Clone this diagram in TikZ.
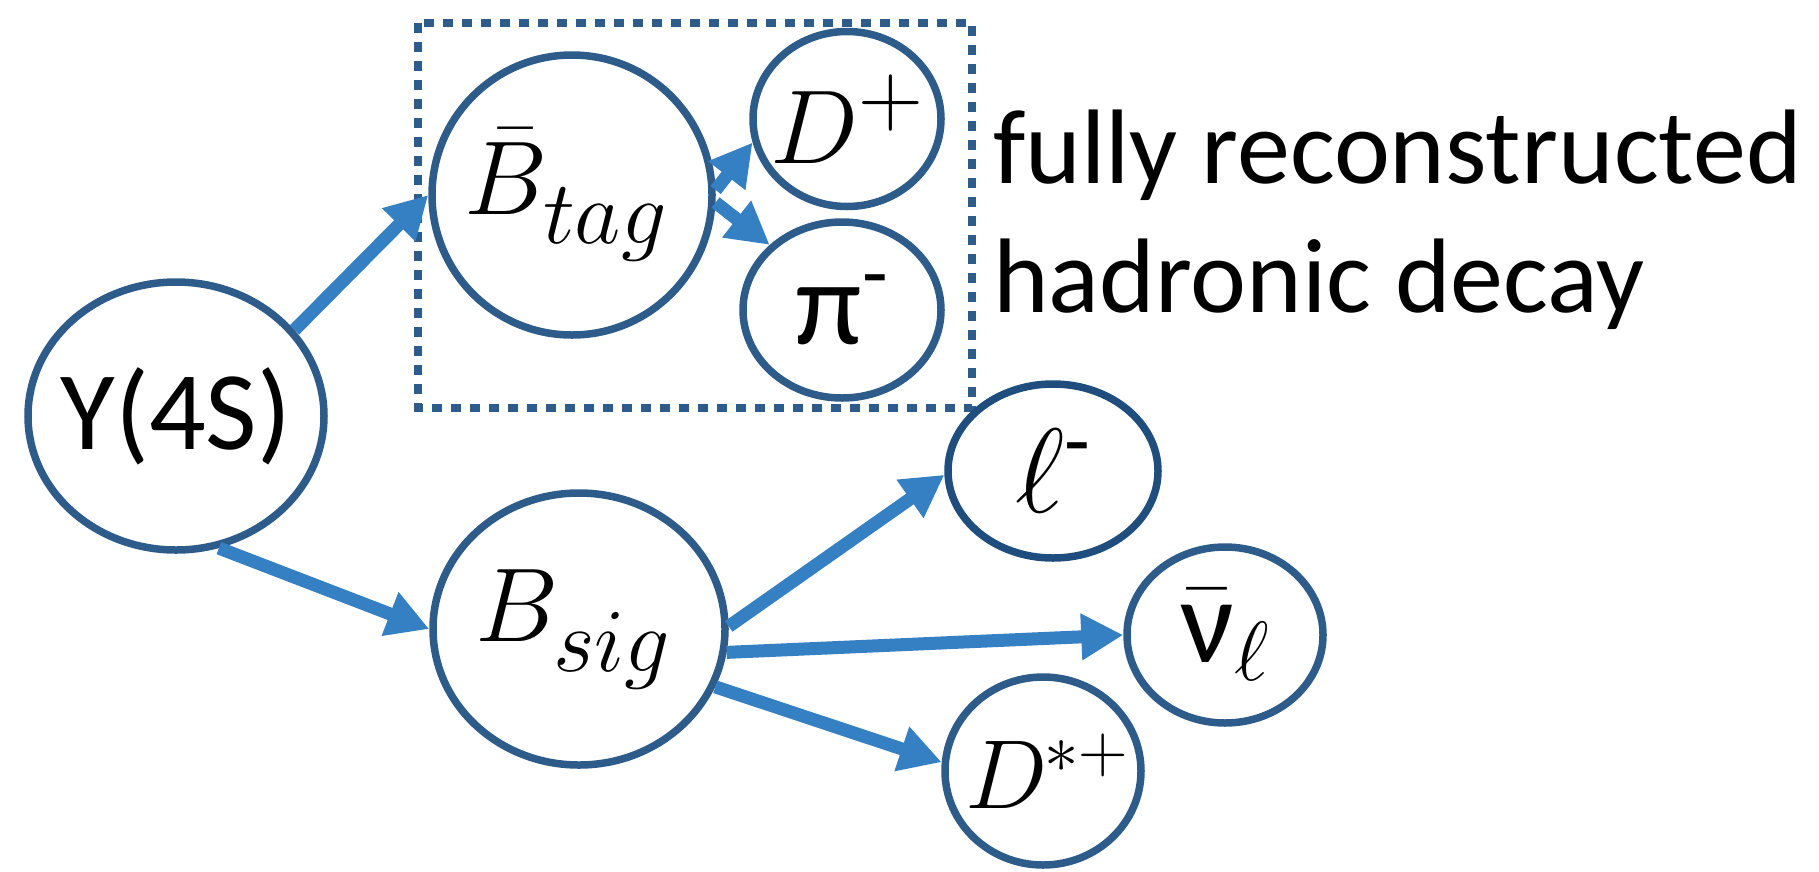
\RequirePackage{fix-cm}
\documentclass[tikz,border=0pt]{standalone}
\usepackage{amsmath}
\usepackage{fontspec}
\setmainfont{Carlito}
\DeclareMathSizes{105}{105}{90}{64}
\DeclareMathSizes{120}{120}{84}{60}
\usetikzlibrary{shapes.geometric,arrows.meta}
\definecolor{ring}{HTML}{2E5C8A}
\definecolor{ringdark}{HTML}{1F4E7E}
\definecolor{arrowblue}{HTML}{3480C3}
\newcommand{\lowsub}[1]{\lower14pt\hbox{$\scriptstyle #1$}}
\begin{document}
\begin{tikzpicture}[x=1pt,y=-1pt,
  particle/.style={ellipse, draw=ring, line width=7.5pt, inner sep=0pt,
    font=\fontsize{105}{126}\selectfont},
  bigfont/.style={font=\fontsize{120}{140}\selectfont},
  decayarrow/.style={draw=arrowblue, line width=13pt,
    -{Triangle[length=42pt,width=44pt]}},
  tagbox/.style={draw=ring, line width=8pt, dash pattern=on 10pt off 9pt},
  caption/.style={anchor=base west, inner sep=0pt,
    font=\fontsize{106}{126}\selectfont}]
\useasboundingbox (0,0) rectangle (1819,871);
\draw[tagbox] (418,23) rectangle (972,408);
\node[particle, minimum width=296pt, minimum height=268pt,
  font=\fontsize{112}{134}\selectfont] (Y) at (176,416) {\makebox[0pt]{Y(4S)}};
\node[particle, minimum width=280pt, minimum height=280pt] (Bt) at (572,195) {\makebox[0pt]{\hspace*{-12pt}$\bar{B}_{\lowsub{tag}}$}};
\node[particle, minimum width=188pt, minimum height=175pt] (Dp) at (847,119) {\makebox[0pt]{$D^{+}$}};
\node[particle, minimum width=198pt, minimum height=176pt, bigfont] (pi) at (842,310) {\makebox[0pt]{π\textsuperscript{-}}};
\node[particle, minimum width=292pt, minimum height=272pt] (Bs) at (579,629) {\makebox[0pt]{\hspace*{-12pt}$B_{\lowsub{sig}}$}};
\node[particle, draw=ringdark, minimum width=210pt, minimum height=174pt, bigfont] (L) at (1053,471) {\makebox[0pt]{$\ell^{\text{-}}$}};
\node[particle, minimum width=196pt, minimum height=176pt, bigfont] (nu) at (1225,635) {\makebox[0pt]{$\bar{\text{ν}}_{\ell}$}};
\node[particle, minimum width=196pt, minimum height=188pt,
  font=\fontsize{98}{118}\selectfont] (Ds) at (1043,771) {\makebox[0pt]{\hspace*{8pt}$D^{\kern-4pt*+}$}};
\node[caption] (t1) at (993,183) {fully reconstructed};
\node[caption] (t2) at (993,312) {hadronic decay};
\draw[decayarrow] (Y.36) -- (Bt.180);
\draw[decayarrow] (Y.-72) -- (Bs.180);
\draw[decayarrow] (Bt.2) -- (Dp.194);
\draw[decayarrow] (Bt.-3) -- (pi.138);
\draw[decayarrow] (Bs.1) -- (L.182);
\draw[decayarrow] (Bs.-9) -- (nu.180);
\draw[decayarrow] (Bs.-23) -- (Ds.175);
\end{tikzpicture}
\end{document}
